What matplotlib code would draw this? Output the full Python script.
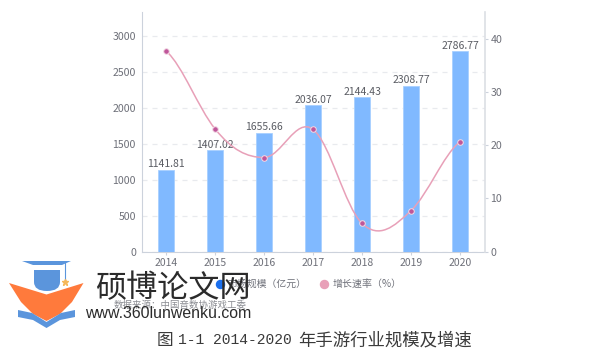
import matplotlib
matplotlib.use("Agg")
import matplotlib.pyplot as plt
from matplotlib.path import Path
from matplotlib.patches import PathPatch, Polygon
import numpy as np

years = ["2014", "2015", "2016", "2017", "2018", "2019", "2020"]
scale = [1141.81, 1407.02, 1655.66, 2036.07, 2144.43, 2308.77, 2786.77]
rate = [37.8, 23.1, 17.7, 23.0, 5.3, 7.7, 20.7]
left_ticks = [0, 500, 1000, 1500, 2000, 2500, 3000]
right_ticks = [0, 10, 20, 30, 40]
legend_names = ["市场规模（亿元）", "增长速率（%）"]
source = "数据来源：中国音数协游戏工委"
site_name = "硕博论文网"
site_url = "www.360lunwenku.com"
caption_parts = ["图", "1-1 2014-2020", "年手游行业规模及增速"]

W, H = 593, 351
CJK = ["Noto Sans CJK SC", "DejaVu Sans"]
TXT = "#6e7079"
BLUE = "#80b9ff"
PINK = "#e8a0b8"

plt.rcParams["font.family"] = CJK

fig = plt.figure(figsize=(W / 100, H / 100), dpi=100, facecolor="white")

# chart area in pixels
x0, x1, ytop, ybot = 141.5, 485, 12, 251.5
ax = fig.add_axes([x0 / W, 1 - ybot / H, (x1 - x0) / W, (ybot - ytop) / H])
ax2 = ax.twinx()
ax.set_zorder(1)
ax2.set_zorder(2)
ax2.patch.set_visible(False)

xs = np.arange(len(years))
ax.bar(xs, scale, width=0.31, color=BLUE, edgecolor="#a8d0ff", linewidth=0.6, zorder=3)
ax.set_xlim(-0.5, 6.51)
ax.set_ylim(0, 3335)
ax2.set_ylim(0, 45.1)

ax.set_yticks(left_ticks)
ax.set_xticks(xs)
ax.set_xticklabels(years)
ax2.set_yticks(right_ticks)
ax.yaxis.grid(True, color="#e8eaee", lw=0.9, ls=(0, (4, 4)), zorder=0)
ax.xaxis.grid(False)
ax.set_axisbelow(True)

ax.tick_params(axis="y", length=0, labelsize=7.6, labelcolor=TXT, pad=4)
ax.tick_params(axis="x", length=2, color="#ccd2dc", labelsize=7.5, labelcolor=TXT, pad=3)
ax2.tick_params(axis="y", length=2, color="#ccd2dc", labelsize=7.6, labelcolor=TXT, pad=2)

for sp in ["top", "right"]:
    ax.spines[sp].set_visible(False)
ax2.spines["top"].set_visible(False)
ax2.spines["left"].set_visible(False)
ax2.spines["bottom"].set_visible(False)
ax.spines["left"].set_color("#ccd2dc")
ax.spines["bottom"].set_color("#ccd2dc")
ax2.spines["right"].set_color("#dcdfe4")
ax2.spines["right"].set_linewidth(1.2)

for x, v in zip(xs, scale):
    ax.annotate("%.2f" % v, (x, v), xytext=(0, 0.5), textcoords="offset points",
                ha="center", va="bottom", fontsize=7.5, color="#5a5c63", zorder=6)

# smooth line through the points, as bezier segments
verts = [(xs[0], rate[0])]
codes = [Path.MOVETO]
k = 0.2
for i in range(len(xs) - 1):
    a = rate[max(i - 1, 0)]
    b = rate[i]
    c = rate[i + 1]
    d = rate[min(i + 2, len(rate) - 1)]
    verts.append((xs[i] + 0.35, b + (c - a) * k))
    verts.append((xs[i + 1] - 0.35, c - (d - b) * k))
    verts.append((xs[i + 1], c))
    codes += [Path.CURVE4, Path.CURVE4, Path.CURVE4]
ax2.add_patch(PathPatch(Path(verts, codes), fc="none", ec=PINK, lw=1.1, zorder=4))
ax2.plot(xs, rate, ls="none", marker="o", ms=4, mfc="#c0569a", mec="#f3dbe6", mew=0.7, zorder=5)

# overlay in pixel coordinates for legend, logo and captions
ov = fig.add_axes([0, 0, 1, 1], zorder=10)
ov.set_xlim(0, W)
ov.set_ylim(H, 0)
ov.axis("off")

ov.plot([220], [284], marker="o", ms=5.8, color="#1a6fee", ls="none")
ov.text(228, 284, legend_names[0], fontsize=7.1, color=TXT, va="center")
ov.plot([324], [284], marker="o", ms=5.8, color=PINK, ls="none")
ov.text(333, 284, legend_names[1], fontsize=7.2, color=TXT, va="center")
ov.text(114, 305, source, fontsize=6.8, color="#8a8c92", va="center")

# logo
LOGO_BLUE = "#5b95dc"
ORANGE = "#ff7a3c"
ov.add_patch(Polygon([(22, 261), (71, 261), (62, 265), (33, 265)], fc=LOGO_BLUE, ec="none"))
cap = Path([(34, 270), (60, 270), (60, 282), (60, 291), (47, 291), (34, 291), (34, 282), (34, 270)],
           [Path.MOVETO, Path.LINETO, Path.LINETO, Path.CURVE3, Path.CURVE3, Path.CURVE3, Path.CURVE3, Path.CLOSEPOLY])
ov.add_patch(PathPatch(cap, fc=LOGO_BLUE, ec="none"))
ov.plot([65, 65], [263, 280], color=LOGO_BLUE, lw=0.8)
ov.plot([65], [282], marker="*", ms=5, color="#f5b85a", ls="none")
ov.add_patch(Polygon([(9, 283), (46.5, 294.5), (83.5, 283), (72, 302), (60, 314), (46.5, 321),
                      (33, 314), (21, 302)], fc=ORANGE, ec="none"))
ov.add_patch(Polygon([(18, 310), (32, 313), (46.5, 322), (61, 313), (75, 310), (75, 317),
                      (60, 320), (46.5, 328), (33, 320), (18, 317)], fc=LOGO_BLUE, ec="none"))

ov.text(95, 289, site_name, fontsize=22.4, color="#2b2b2b", va="center")
ov.text(85, 314, site_url, fontsize=11.4, color="#2b2b2b", va="center", family="Liberation Sans")

ov.text(157, 340, caption_parts[0], fontsize=12, color="#3a3a3a", va="center", family=CJK)
ov.text(178, 340, caption_parts[1], fontsize=10.5, color="#3a3a3a", va="center", family="Liberation Mono")
ov.text(298, 340, caption_parts[2], fontsize=12.5, color="#3a3a3a", va="center", family=CJK)

fig.savefig("out.png", dpi=100)
